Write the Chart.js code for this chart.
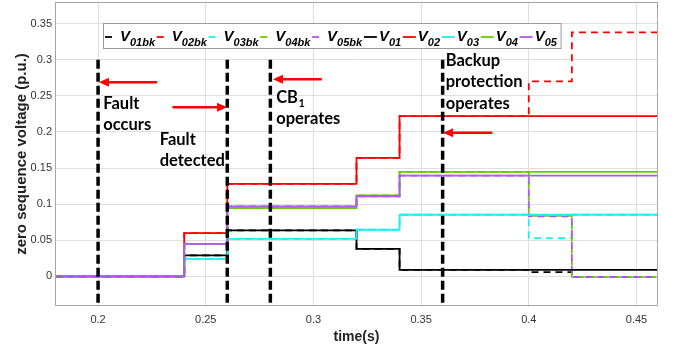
<!DOCTYPE html>
<html>
<head>
<meta charset="utf-8">
<script src="https://cdn.jsdelivr.net/npm/chart.js@4.4.1/dist/chart.umd.min.js"></script>
<style>
    html, body { margin: 0; padding: 0; background: #fff; }
    #wrap { width: 675px; height: 349px; }
</style>
</head>
<body>
<div id="wrap"><canvas id="grafico" width="675" height="349"></canvas></div>
<script>
// ===== DADOS =====
// instantes em que os degraus mudam (s); o último ponto só fecha a linha
const tempos = [0.18, 0.24, 0.26, 0.32, 0.34, 0.40, 0.42, 0.46];

// tensões com proteção principal
const v01 = [0, 0.029, 0.0636, 0.038, 0.009, 0.009, 0.009, 0.009];
const v02 = [0, 0.060, 0.128, 0.164, 0.222, 0.222, 0.222, 0.222];
const v03 = [0, 0.0243, 0.052, 0.0646, 0.0854, 0.0854, 0.0854, 0.0854];
const v04 = [0, 0.045, 0.0947, 0.112, 0.1447, 0.1447, 0.1447, 0.1447];
const v05 = [0, 0.045, 0.097, 0.111, 0.1396, 0.1396, 0.1396, 0.1396];

// tensões com proteção de retaguarda (backup)
const v01bk = [0, 0.029, 0.0636, 0.038, 0.009, 0.006, -0.001, -0.001];
const v02bk = [0, 0.060, 0.128, 0.164, 0.222, 0.270, 0.338, 0.338];
const v03bk = [0, 0.0243, 0.052, 0.0646, 0.0854, 0.053, 0.0854, 0.0854];
const v04bk = [0, 0.045, 0.0947, 0.112, 0.1447, 0.084, -0.001, -0.001];
const v05bk = [0, 0.045, 0.097, 0.111, 0.1396, 0.083, -0.001, -0.001];

// eventos (linhas verticais tracejadas)
const eventos = [0.2, 0.26, 0.28, 0.36];
const topoEvento = 0.3;

// eixos
const marcasX = [0.2, 0.25, 0.3, 0.35, 0.4, 0.45];
const marcasY = [0, 0.05, 0.1, 0.15, 0.2, 0.25, 0.3, 0.35];
const xMin = 0.18, xMax = 0.46;
const yMin = -0.041, yMax = 0.38;

const VERMELHO = '#ff0000';
const CIANO = '#1ef0f0';
const VERDE = '#66cc00';
const ROXO = '#b155ff';
const PRETO = '#000000';

function serie(sub, valores, cor, tracejado) {
    return {
        label: sub,
        data: tempos.map((t, i) => ({ x: t, y: valores[i] })),
        borderColor: cor,
        backgroundColor: cor,
        borderWidth: 1.8,
        borderDash: tracejado ? [7, 5] : [],
        stepped: 'before',
        pointRadius: 0,
        fill: false,
        tracejado: tracejado
    };
}

// séries (na ordem da legenda)
const seriesLegenda = [
    serie('01bk', v01bk, PRETO, true),
    serie('02bk', v02bk, VERMELHO, true),
    serie('03bk', v03bk, CIANO, true),
    serie('04bk', v04bk, VERDE, true),
    serie('05bk', v05bk, ROXO, true),
    serie('01', v01, PRETO, false),
    serie('02', v02, VERMELHO, false),
    serie('03', v03, CIANO, false),
    serie('04', v04, VERDE, false),
    serie('05', v05, ROXO, false)
];

// linhas dos eventos
const linhasEvento = eventos.map(t => ({
    label: 'evento',
    data: [{ x: t, y: topoEvento }, { x: t, y: yMin }],
    borderColor: '#000',
    borderWidth: 3.5,
    borderDash: [9, 4],
    pointRadius: 0,
    fill: false
}));

// ordem de desenho: o primeiro dataset fica por cima
const ordemDesenho = [...linhasEvento, ...seriesLegenda.slice().reverse()];

// ===== Setas e textos =====
const setas = [
    { x0: 0.2274, x1: 0.2004, y: 0.269 },
    { x0: 0.2345, x1: 0.2599, y: 0.2344 },
    { x0: 0.3039, x1: 0.2812, y: 0.273 },
    { x0: 0.3831, x1: 0.3602, y: 0.199 }
];
const textos = [
    { x: 0.2024, y: 0.2322, linhas: ['Fault', 'occurs'] },
    { x: 0.2286, y: 0.1826, linhas: ['Fault', 'detected'] },
    { x: 0.2827, y: 0.2406, linhas: ['CB', 'operates'], sub: '1' },
    { x: 0.3614, y: 0.2914, linhas: ['Backup', 'protection', 'operates'] }
];

const pluginAnotacoes = {
    id: 'anotacoes',
    afterDatasetsDraw(chart) {
        const ctx = chart.ctx;
        const sx = chart.scales.x, sy = chart.scales.y;
        ctx.save();

        // setas vermelhas
        ctx.strokeStyle = VERMELHO;
        ctx.fillStyle = VERMELHO;
        ctx.lineWidth = 2.5;
        setas.forEach(s => {
            const a = sx.getPixelForValue(s.x0);
            const b = sx.getPixelForValue(s.x1);
            const y = sy.getPixelForValue(s.y);
            const dir = b > a ? 1 : -1;
            ctx.beginPath();
            ctx.moveTo(a, y);
            ctx.lineTo(b - dir * 8, y);
            ctx.stroke();
            ctx.beginPath();
            ctx.moveTo(b, y);
            ctx.lineTo(b - dir * 10, y - 4.5);
            ctx.lineTo(b - dir * 10, y + 4.5);
            ctx.closePath();
            ctx.fill();
        });

        // textos
        ctx.fillStyle = '#000';
        ctx.textAlign = 'left';
        ctx.textBaseline = 'alphabetic';
        textos.forEach(t => {
            const x = sx.getPixelForValue(t.x);
            const y0 = sy.getPixelForValue(t.y);
            t.linhas.forEach((linha, i) => {
                ctx.font = 'bold 16.5px Lato';
                ctx.fillText(linha, x, y0 + i * 21.5);
                if (i === 0 && t.sub) {
                    const w = ctx.measureText(linha).width;
                    ctx.font = 'bold 11px Lato';
                    ctx.fillText(t.sub, x + w + 0.5, y0 + 4);
                }
            });
        });
        ctx.restore();
    }
};

// ===== Moldura e legenda =====
const pluginMoldura = {
    id: 'moldura',
    afterDraw(chart) {
        const ctx = chart.ctx;
        const a = chart.chartArea;
        ctx.save();
        ctx.strokeStyle = '#a6a6a6';
        ctx.lineWidth = 1;
        ctx.strokeRect(a.left + 0.5, a.top + 0.5, a.right - a.left - 1, a.bottom - a.top - 1);

        // legenda com subscritos
        const caixa = { x: 103, y: 23, h: 25 };
        const fonteV = 'italic bold 15px "Liberation Sans"';
        const fonteSub = 'italic bold 11px "Liberation Sans"';
        const itens = [];
        let x = caixa.x + 2;
        seriesLegenda.forEach(s => {
            const comp = s.tracejado ? 7 : 13;
            const folga = s.tracejado ? 8 : 2;
            ctx.font = fonteV;
            const wV = ctx.measureText('V').width;
            ctx.font = fonteSub;
            const wS = ctx.measureText(s.label).width;
            itens.push({ s, x, comp, tx: x + comp + folga, wV });
            x = x + comp + folga + wV + wS + 1.7;
        });
        const largura = x - caixa.x + 2;
        ctx.fillStyle = '#fff';
        ctx.fillRect(caixa.x, caixa.y, largura, caixa.h);
        ctx.strokeStyle = '#9a9a9a';
        ctx.strokeRect(caixa.x + 0.5, caixa.y + 0.5, largura, caixa.h);

        itens.forEach(it => {
            const yl = caixa.y + 14;
            ctx.strokeStyle = it.s.borderColor;
            ctx.lineWidth = 1.8;
            ctx.beginPath();
            ctx.moveTo(it.x, yl);
            ctx.lineTo(it.x + it.comp, yl);
            ctx.stroke();
            ctx.fillStyle = '#000';
            ctx.font = fonteV;
            ctx.fillText('V', it.tx, caixa.y + 18);
            ctx.font = fonteSub;
            ctx.fillText(it.s.label, it.tx + it.wV, caixa.y + 23);
        });
        ctx.restore();
    }
};

// sem folgas extras nos eixos, a área do gráfico fica fixa
function semFolga(s) {
    s.paddingTop = 0;
    s.paddingBottom = 0;
    s.paddingLeft = 0;
    s.paddingRight = 0;
}

// ===== Gráfico =====
const ctxGrafico = document.getElementById('grafico').getContext('2d');
const grafico = new Chart(ctxGrafico, {
    type: 'line',
    data: { datasets: ordemDesenho },
    options: {
        responsive: false,
        animation: false,
        devicePixelRatio: 1,
        layout: { padding: { top: 2, right: 17, left: 0, bottom: 0 } },
        plugins: {
            legend: { display: false },
            tooltip: { enabled: false }
        },
        scales: {
            x: {
                type: 'linear',
                min: xMin,
                max: xMax,
                afterBuildTicks: s => { s.ticks = marcasX.map(v => ({ value: v })); },
                afterFit: s => { s.height = 43; semFolga(s); },
                grid: { color: '#dedede', drawTicks: false },
                border: { display: false },
                ticks: {
                    padding: 7,
                    color: '#333',
                    font: { family: 'Liberation Sans', size: 11 },
                    callback: v => String(v)
                },
                title: {
                    display: true,
                    text: 'time(s)',
                    color: '#222',
                    font: { family: 'Liberation Sans', size: 14, weight: 'bold' },
                    padding: { top: 0, bottom: 3 }
                }
            },
            y: {
                type: 'linear',
                min: yMin,
                max: yMax,
                afterBuildTicks: s => { s.ticks = marcasY.map(v => ({ value: v })); },
                afterFit: s => { s.width = 55; semFolga(s); },
                grid: { color: '#dedede', drawTicks: false },
                border: { display: false },
                ticks: {
                    padding: 3,
                    color: '#333',
                    font: { family: 'Liberation Sans', size: 11 },
                    callback: v => String(v)
                },
                title: {
                    display: true,
                    text: 'zero sequence voltage (p.u.)',
                    color: '#222',
                    font: { family: 'Liberation Sans', size: 15, weight: 'bold' },
                    padding: { top: 13, bottom: 0 }
                }
            }
        }
    },
    plugins: [pluginAnotacoes, pluginMoldura]
});
</script>
</body>
</html>
